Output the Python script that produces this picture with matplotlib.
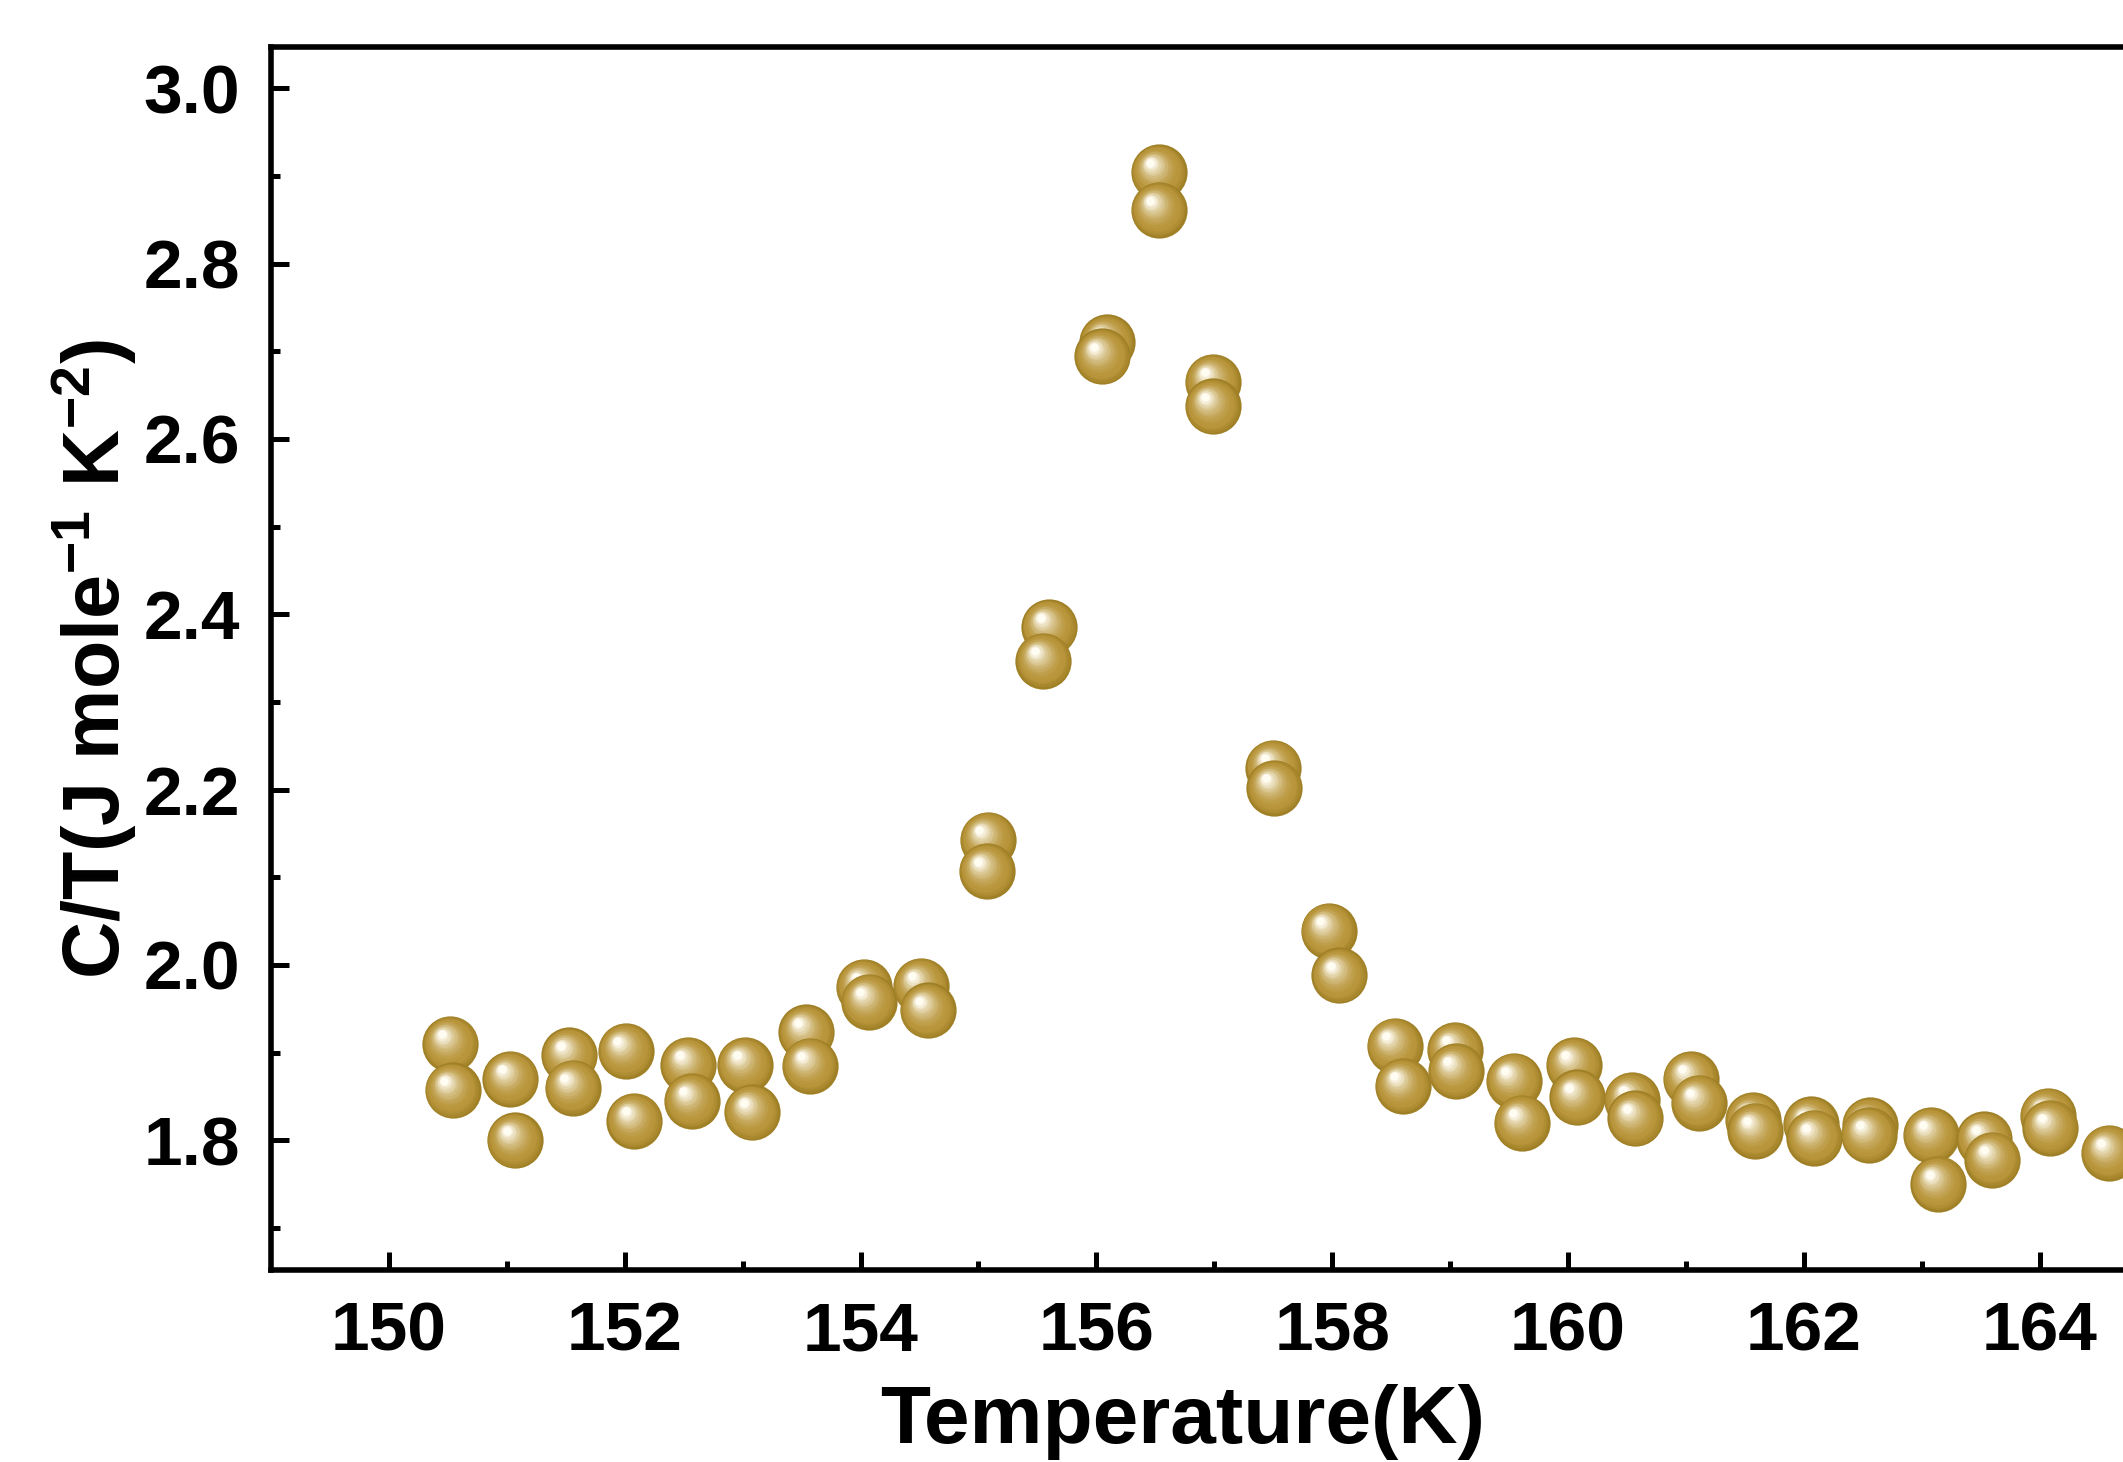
import numpy as np
import matplotlib
matplotlib.use('Agg')
import matplotlib.pyplot as plt
from matplotlib.ticker import MultipleLocator, FixedLocator, FormatStrFormatter
from matplotlib.transforms import offset_copy
from matplotlib.colors import to_rgb

plt.rcParams['font.family'] = ['Liberation Sans', 'DejaVu Sans']
plt.rcParams['font.weight'] = 'bold'
plt.rcParams['mathtext.default'] = 'regular'

# temperature (K) and C/T (J mole^-1 K^-2)
T = [150.52, 150.54, 151.03, 151.07, 151.53, 151.56, 152.01, 152.08,
     152.54, 152.57, 153.02, 153.08, 153.54, 153.57, 154.03, 154.07,
     154.51, 154.57, 155.08, 155.07, 155.60, 155.55, 156.09, 156.05,
     156.53, 156.53, 156.99, 156.99, 157.50, 157.51, 157.97, 158.06,
     158.53, 158.60, 159.04, 159.05, 159.54, 159.61, 160.05, 160.08,
     160.54, 160.57, 161.04, 161.11, 161.57, 161.59, 162.06, 162.09,
     162.56, 162.55, 163.08, 163.14, 163.53, 163.60, 164.07, 164.09,
     164.59]
CT = [1.910, 1.857, 1.870, 1.800, 1.897, 1.860, 1.902, 1.822,
      1.886, 1.845, 1.886, 1.832, 1.923, 1.885, 1.975, 1.958,
      1.976, 1.948, 2.143, 2.107, 2.385, 2.347, 2.710, 2.694,
      2.904, 2.861, 2.665, 2.637, 2.225, 2.202, 2.039, 1.988,
      1.908, 1.862, 1.903, 1.879, 1.868, 1.820, 1.886, 1.849,
      1.846, 1.825, 1.870, 1.843, 1.823, 1.811, 1.818, 1.803,
      1.817, 1.806, 1.806, 1.750, 1.801, 1.778, 1.828, 1.814,
      1.786]
xticks = [150, 152, 154, 156, 158, 160, 162, 164]

xmin, xmax = 149, 166
ymin, ymax = 1.652, 3.047

fig = plt.figure(figsize=(21.23, 14.62), dpi=100)
ax_wpx = (xmax - xmin) * 117.9
ax_hpx = 1415 - 192
ax = fig.add_axes([271 / 2123, 192 / 1462, ax_wpx / 2123, ax_hpx / 1462])

# shaded "ball" markers: stacked circles getting lighter toward upper-left
base = np.array(to_rgb('#b8953a'))
dark = np.array(to_rgb('#a08026'))
white = np.array([1.0, 0.99, 0.95])
D = 40.5
n = 16
k = 0
for t, v in zip(T, CT):
    for i in range(n):
        f = i / (n - 1)
        size = D * (1 - 0.85 * f)
        if f < 0.2:
            c = dark + (base - dark) * (f / 0.2)
        else:
            g = ((f - 0.2) / 0.8) ** 1.8
            c = base + (white - base) * g
        dx = -0.30 * D / 2 * f
        dy = 0.34 * D / 2 * f
        tr = offset_copy(ax.transData, fig=fig, x=dx, y=dy, units='points')
        ax.plot([t], [v], 'o', ms=size, mfc=tuple(c), mec='none',
                transform=tr, zorder=3 + k * 0.01 + i * 0.0005)
    k += 1

ax.set_xlim(xmin, xmax)
ax.set_ylim(ymin, ymax)
ax.xaxis.set_major_locator(FixedLocator(xticks))
ax.xaxis.set_minor_locator(FixedLocator([x + 1 for x in xticks]))
ax.yaxis.set_major_locator(MultipleLocator(0.2))
ax.yaxis.set_minor_locator(MultipleLocator(0.1))
ax.xaxis.set_major_formatter(FormatStrFormatter('%d'))
ax.yaxis.set_major_formatter(FormatStrFormatter('%.1f'))

ax.tick_params(which='both', direction='in', width=3.6, top=False, right=False)
ax.tick_params(which='major', length=13, labelsize=50, pad=22)
ax.tick_params(which='minor', length=6.5)
for lab in ax.get_xticklabels() + ax.get_yticklabels():
    lab.set_fontweight('bold')
for s in ax.spines.values():
    s.set_linewidth(4)

ax.set_xlabel('Temperature(K)', fontsize=59, fontweight='bold', va='center')
ax.xaxis.set_label_coords((1183 - 271) / ax_wpx, -(1422 - 1270) / ax_hpx)
ax.set_ylabel(r'C/T(J mole$^{-1}$ K$^{-2}$)', fontsize=57, fontweight='bold', va='center')
ax.yaxis.set_label_coords(-(271 - 94) / ax_wpx, 0.5)

fig.savefig('out.png', dpi=100)
